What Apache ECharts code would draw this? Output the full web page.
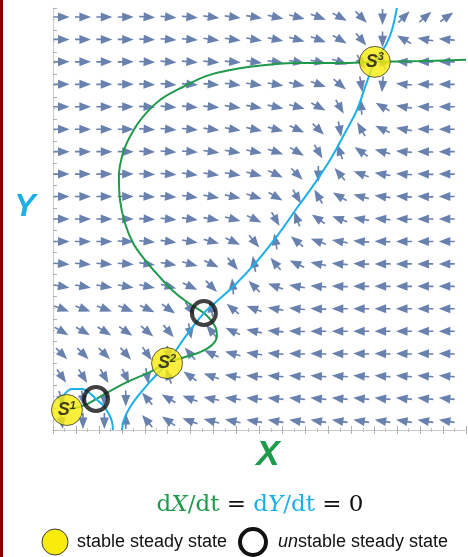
<!DOCTYPE html>
<html>
<head>
<meta charset="utf-8">
<script src="https://cdn.jsdelivr.net/npm/echarts@6/dist/echarts.min.js"></script>
<style>
  html, body { margin: 0; padding: 0; background: #fff; }
  #chart { width: 468px; height: 557px; }
</style>
</head>
<body>
<div id="chart"></div>
<script>
// Sample positions of the direction field (grid units)
const gridX = [0, 1, 2, 3, 4, 5, 6, 7, 8, 9, 10, 11, 12, 13, 14, 15, 16, 17, 18];
const gridY = [18, 17, 16, 15, 14, 13, 12, 11, 10, 9, 8, 7, 6, 5, 4, 3, 2, 1, 0]; // top row first

// Arrow direction at each sample, degrees (0 = +X, 90 = +Y); rows top to bottom
const fieldAngles = [
  [0, 0, 0, 0, -3, -5, -5, -8, -8, -10, -12, -15, -20, -28, -45, -90, 45, 40, 35],
  [0, 0, 0, 0, -3, -5, -5, -8, -8, -10, -12, -15, -20, -30, -50, -90, 150, 170, 175],
  [0, 0, 0, 0, -3, -5, -5, -5, -5, -8, -8, -10, -12, -20, -60, 110, 175, 180, 180],
  [0, 0, 0, 0, -3, -5, -5, -5, -8, -8, -10, -12, -20, -40, -80, -95, 175, 180, 180],
  [0, 0, 0, 0, -3, -5, -5, -5, -8, -10, -12, -15, -28, -60, 95, 150, 170, 178, 180],
  [0, 0, 0, 0, -3, -5, -5, -8, -10, -12, -15, -25, -45, -80, 120, 155, 170, 178, 180],
  [0, 0, 0, 0, -3, -5, -5, -8, -10, -12, -18, -30, -60, 110, 145, 165, 175, 178, 180],
  [0, 0, 0, 0, -3, -5, -8, -8, -10, -15, -25, -45, -90, 130, 160, 170, 175, 178, 180],
  [0, 0, 0, 0, -3, -5, -8, -10, -12, -18, -30, -60, 120, 150, 165, 172, 176, 178, 180],
  [0, 0, 0, 0, -3, -5, -8, -10, -15, -25, -60, 110, 145, 160, 170, 175, 178, 180, 180],
  [0, 0, 0, -3, -5, -8, -10, -15, -25, -50, 100, 140, 160, 170, 175, 178, 180, 180, 180],
  [-5, -5, -5, -5, -8, -10, -15, -25, -50, 100, 130, 155, 168, 175, 178, 180, 180, 180, 180],
  [-10, -10, -10, -10, -12, -15, -25, -45, 95, 135, 160, 170, 175, 178, 180, 180, 180, 180, 180],
  [-20, -20, -20, -22, -25, -35, -55, 100, 140, 160, 170, 175, 178, 180, 180, 180, 180, 180, 180],
  [-30, -30, -32, -35, -40, -50, -80, 130, 155, 168, 175, 178, 180, 180, 180, 180, 180, 180, 180],
  [-45, -45, -45, -48, -55, -80, 130, 155, 165, 172, 176, 178, 178, 178, 178, 178, 178, 178, 178],
  [-55, -58, -60, -65, -80, 110, 145, 160, 170, 175, 176, 176, 176, 176, 176, 176, 176, 176, 176],
  [-70, -80, -90, -90, 130, 150, 160, 168, 172, 174, 174, 174, 174, 174, 174, 174, 174, 174, 174],
  [-80, -90, -90, 90, 130, 145, 160, 165, 168, 170, 170, 170, 170, 170, 170, 170, 170, 170, 170]
];

// dX/dt = 0 nullcline
const dxNullcline = [
  [18.90, 16.09], [16.75, 16.04], [14.64, 16.00], [13.00, 15.95], [11.00, 15.95],
  [8.80, 15.78], [6.93, 15.42], [5.67, 14.88], [4.60, 14.30], [3.80, 13.55],
  [3.29, 12.83], [2.87, 11.94], [2.68, 10.87], [2.73, 9.85], [2.96, 8.82],
  [3.34, 7.93], [3.90, 7.17], [4.50, 6.51], [5.16, 5.84], [5.86, 5.30],
  [6.65, 4.81], [6.93, 4.55], [7.21, 4.14], [7.26, 3.79], [7.03, 3.39],
  [6.47, 3.07], [5.77, 2.85], [4.93, 2.58], [4.13, 2.18], [2.96, 1.69],
  [1.61, 0.98], [1.09, 0.71], [0.25, 0.49]
];

// dY/dt = 0 nullcline: main branch and the small arc near the origin
const dyNullcline = [
  [15.67, 18.40], [15.44, 17.42], [15.16, 16.76], [14.64, 16.00], [14.22, 14.97],
  [13.80, 13.85], [13.24, 12.83], [12.63, 11.76], [11.84, 10.60], [11.00, 9.49],
  [10.11, 8.29], [9.18, 7.17], [8.10, 6.06], [7.17, 5.26], [6.65, 4.81],
  [5.77, 3.74], [4.93, 2.58], [4.13, 1.74], [3.43, 0.94], [3.01, 0.27], [2.82, -0.40]
];
const dyNullclineArc = [
  [-0.07, 0.76], [0.11, 1.16], [0.49, 1.43], [0.95, 1.43], [1.37, 1.20],
  [1.61, 0.98], [1.93, 0.71], [2.21, 0.31], [2.36, -0.04], [2.40, -0.40]
];

// Steady states
const stableStates = [
  { name: '1', value: [0.25, 0.49] },
  { name: '2', value: [4.93, 2.58] },
  { name: '3', value: [14.64, 16.00] }
];
const unstableStates = [[6.65, 4.81], [1.61, 0.98]];

const GREEN = '#1f9a4d';
const BLUE = '#1cafe8';
const ARROW = '#42629a';

const arrowData = [];
gridY.forEach((y, r) => {
  gridX.forEach((x, c) => {
    arrowData.push({ value: [x, y], symbolRotate: fieldAngles[r][c] });
  });
});

const tickAxisBase = {
  type: 'value',
  axisLabel: { show: false },
  splitLine: { show: false },
  axisLine: { show: true, lineStyle: { color: '#c9c9c9', width: 1 } },
  axisTick: { show: true, inside: true, length: 4, lineStyle: { color: '#b0b0b0' } },
  minorTick: { show: true, splitNumber: 2, length: 2, lineStyle: { color: '#c0c0c0' } }
};

const chart = echarts.init(document.getElementById('chart'), null, { renderer: 'canvas' });
chart.setOption({
  animation: false,
  backgroundColor: '#fff',
  grid: { left: 53, right: 2, top: 8, bottom: 127 },
  xAxis: [
    { type: 'value', min: -0.4, max: 18.9, show: false },
    Object.assign({}, tickAxisBase, { position: 'top', min: 0, max: 18, interval: 1 }),
    Object.assign({}, tickAxisBase, { position: 'bottom', min: 0, max: 18, interval: 1 })
  ],
  yAxis: [
    { type: 'value', min: -0.4, max: 18.4, show: false },
    Object.assign({}, tickAxisBase, { position: 'left', min: 0, max: 19, interval: 1 })
  ],
  series: [
    {
      type: 'scatter',
      xAxisIndex: 0, yAxisIndex: 0,
      silent: true,
      z: 2,
      // arrow pointing along +X: short shaft and a solid triangular head
      symbol: 'path://M0 4.1L7 4.1L7 5.9L0 5.9Z M5 0L18 5L5 10Z',
      symbolSize: [16, 9],
      itemStyle: { color: ARROW },
      data: arrowData
    },
    {
      type: 'line',
      xAxisIndex: 0, yAxisIndex: 0,
      z: 3,
      smooth: 0.4,
      showSymbol: false,
      lineStyle: { color: GREEN, width: 2 },
      data: dxNullcline
    },
    {
      type: 'line',
      xAxisIndex: 0, yAxisIndex: 0,
      z: 3,
      smooth: 0.4,
      showSymbol: false,
      lineStyle: { color: BLUE, width: 2 },
      data: dyNullcline
    },
    {
      type: 'line',
      xAxisIndex: 0, yAxisIndex: 0,
      z: 3,
      smooth: 0.4,
      showSymbol: false,
      lineStyle: { color: BLUE, width: 2 },
      data: dyNullclineArc
    },
    {
      type: 'scatter',
      xAxisIndex: 0, yAxisIndex: 0,
      z: 4,
      symbol: 'circle',
      symbolSize: 24,
      itemStyle: { color: 'rgba(0,0,0,0)', borderColor: '#111', borderWidth: 4 },
      data: unstableStates
    },
    {
      type: 'scatter',
      xAxisIndex: 0, yAxisIndex: 0,
      z: 5,
      symbol: 'circle',
      symbolSize: 31,
      itemStyle: { color: '#f9eb0c', borderColor: '#3a3a3a', borderWidth: 1 },
      label: {
        show: true,
        position: 'inside',
        formatter: (p) => '{s|S}{n|' + p.data.name + '}',
        rich: {
          s: { fontFamily: 'Liberation Sans', fontSize: 18, fontWeight: 'bold', fontStyle: 'italic', color: '#111', lineHeight: 20 },
          n: { fontFamily: 'Liberation Sans', fontSize: 11, fontWeight: 'bold', fontStyle: 'italic', color: '#111', lineHeight: 12, verticalAlign: 'top' }
        }
      },
      data: stableStates
    }
  ],
  graphic: [
    { type: 'rect', left: 0, top: 0, shape: { width: 3, height: 557 }, style: { fill: '#b00000' } },
    { type: 'rect', left: 0.8, top: 0, shape: { width: 1.4, height: 557 }, style: { fill: '#1a0000' } },
    {
      type: 'text', x: 25, y: 207,
      style: { text: 'Y', fill: BLUE, font: 'italic bold 32px "Liberation Sans"', textAlign: 'center', textVerticalAlign: 'middle' }
    },
    {
      type: 'text', x: 268, y: 455,
      style: { text: 'X', fill: GREEN, font: 'italic bold 35px "Liberation Sans"', textAlign: 'center', textVerticalAlign: 'middle' }
    },
    {
      type: 'text', x: 260, y: 505,
      style: {
        text: '{g|d}{gi|X}{g|/dt}{k| = }{b|d}{bi|Y}{b|/dt}{k| = 0}',
        textAlign: 'center', textVerticalAlign: 'middle',
        rich: {
          g: { fill: GREEN, fontFamily: 'DejaVu Serif', fontSize: 23 },
          gi: { fill: GREEN, fontFamily: 'DejaVu Serif', fontSize: 23, fontStyle: 'italic' },
          b: { fill: BLUE, fontFamily: 'DejaVu Serif', fontSize: 23 },
          bi: { fill: BLUE, fontFamily: 'DejaVu Serif', fontSize: 23, fontStyle: 'italic' },
          k: { fill: '#111', fontFamily: 'DejaVu Serif', fontSize: 23 }
        }
      }
    },
    {
      type: 'circle', shape: { cx: 55, cy: 542, r: 13 },
      style: { fill: '#f9eb0c', stroke: '#3a3a3a', lineWidth: 1 }
    },
    {
      type: 'text', x: 77, y: 542,
      style: { text: 'stable steady state', fill: '#111', font: '18px "Liberation Sans"', textVerticalAlign: 'middle' }
    },
    {
      type: 'circle', shape: { cx: 253, cy: 542, r: 13 },
      style: { fill: 'none', stroke: '#111', lineWidth: 4 }
    },
    {
      type: 'text', x: 278, y: 542,
      style: {
        text: '{i|un}{r|stable steady state}',
        textVerticalAlign: 'middle',
        rich: {
          i: { fill: '#111', fontFamily: 'Liberation Sans', fontSize: 18, fontStyle: 'italic' },
          r: { fill: '#111', fontFamily: 'Liberation Sans', fontSize: 18 }
        }
      }
    }
  ]
});
</script>
</body>
</html>
